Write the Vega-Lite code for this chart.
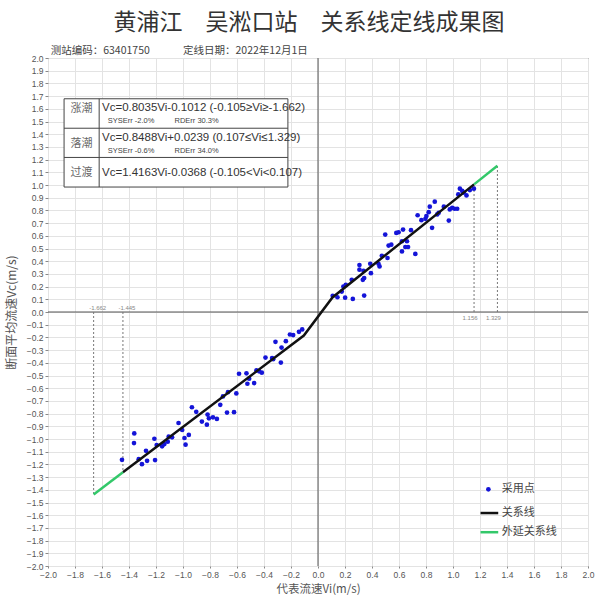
{
  "$schema": "https://vega.github.io/schema/vega-lite/v6.json",
  "width": 540,
  "height": 508,
  "autosize": {"type": "none"},
  "padding": {"left": 48, "top": 58, "right": 7, "bottom": 31},
  "background": "white",
  "title": {
    "text": "黄浦江　吴淞口站　关系线定线成果图",
    "font": "Noto Sans CJK SC",
    "fontSize": 23,
    "fontWeight": "normal",
    "color": "#333333",
    "anchor": "middle",
    "frame": "group",
    "dx": -9,
    "offset": 11
  },
  "config": {
    "view": {"stroke": "#444444", "strokeWidth": 1},
    "axis": {
      "labelFont": "Liberation Sans",
      "labelFontSize": 8.5,
      "labelColor": "#555555",
      "tickColor": "#888888",
      "tickSize": 3,
      "gridColor": "#e3e3e3",
      "gridWidth": 1,
      "domain": false,
      "titleFont": "Noto Sans CJK SC",
      "titleFontSize": 12,
      "titleFontWeight": "normal",
      "titleColor": "#555555",
      "labelFlush": false,
      "labelOverlap": false
    }
  },
  "encoding": {
    "x": {
      "field": "vi",
      "type": "quantitative",
      "scale": {"domain": [-2, 2], "nice": false, "zero": false},
      "axis": {
        "title": "代表流速Vi(m/s)",
        "values": [-2, -1.8, -1.6, -1.4, -1.2, -1, -0.8, -0.6, -0.4, -0.2, 0, 0.2, 0.4, 0.6, 0.8, 1, 1.2, 1.4, 1.6, 1.8, 2],
        "format": ".1f",
        "tickSize": 2,
        "labelPadding": 2,
        "titleFontSize": 11.5,
        "titlePadding": 5
      }
    },
    "y": {
      "field": "vc",
      "type": "quantitative",
      "scale": {"domain": [-2, 2], "nice": false, "zero": false},
      "axis": {
        "title": "断面平均流速Vc(m/s)",
        "values": [-2, -1.9, -1.8, -1.7, -1.6, -1.5, -1.4, -1.3, -1.2, -1.1, -1, -0.9, -0.8, -0.7, -0.6, -0.5, -0.4, -0.3, -0.2, -0.1, 0, 0.1, 0.2, 0.3, 0.4, 0.5, 0.6, 0.7, 0.8, 0.9, 1, 1.1, 1.2, 1.3, 1.4, 1.5, 1.6, 1.7, 1.8, 1.9, 2],
        "format": ".1f",
        "labelPadding": 2,
        "titlePadding": 8
      }
    }
  },
  "datasets": {
    "pts": [
      {"vi": -1.452, "vc": -1.164}, {"vi": -1.361, "vc": -0.956}, {"vi": -1.363, "vc": -1.032}, {"vi": -1.328, "vc": -1.159},
      {"vi": -1.304, "vc": -1.198}, {"vi": -1.274, "vc": -1.093}, {"vi": -1.266, "vc": -1.172}, {"vi": -1.212, "vc": -0.998},
      {"vi": -1.207, "vc": -1.166}, {"vi": -1.195, "vc": -1.048}, {"vi": -1.155, "vc": -1.058}, {"vi": -1.138, "vc": -1.04},
      {"vi": -1.113, "vc": -1.021}, {"vi": -1.106, "vc": -0.982}, {"vi": -1.081, "vc": -0.987}, {"vi": -1.033, "vc": -0.874},
      {"vi": -1.006, "vc": -0.929}, {"vi": -0.989, "vc": -0.992}, {"vi": -0.981, "vc": -1.045}, {"vi": -0.957, "vc": -0.968},
      {"vi": -0.934, "vc": -0.75}, {"vi": -0.902, "vc": -0.786}, {"vi": -0.86, "vc": -0.863}, {"vi": -0.823, "vc": -0.887},
      {"vi": -0.818, "vc": -0.808}, {"vi": -0.808, "vc": -0.837}, {"vi": -0.778, "vc": -0.829}, {"vi": -0.749, "vc": -0.842},
      {"vi": -0.724, "vc": -0.731}, {"vi": -0.704, "vc": -0.665}, {"vi": -0.674, "vc": -0.792}, {"vi": -0.667, "vc": -0.631},
      {"vi": -0.622, "vc": -0.789}, {"vi": -0.605, "vc": -0.641}, {"vi": -0.585, "vc": -0.486}, {"vi": -0.53, "vc": -0.483},
      {"vi": -0.523, "vc": -0.565}, {"vi": -0.51, "vc": -0.525}, {"vi": -0.473, "vc": -0.56}, {"vi": -0.456, "vc": -0.459},
      {"vi": -0.436, "vc": -0.467}, {"vi": -0.416, "vc": -0.478}, {"vi": -0.389, "vc": -0.359}, {"vi": -0.34, "vc": -0.362},
      {"vi": -0.332, "vc": -0.372}, {"vi": -0.275, "vc": -0.398}, {"vi": -0.315, "vc": -0.235}, {"vi": -0.27, "vc": -0.28},
      {"vi": -0.238, "vc": -0.23}, {"vi": -0.208, "vc": -0.177}, {"vi": -0.184, "vc": -0.182}, {"vi": -0.141, "vc": -0.156},
      {"vi": -0.117, "vc": -0.137},
      {"vi": 0.109, "vc": 0.127}, {"vi": 0.144, "vc": 0.116}, {"vi": 0.176, "vc": 0.161}, {"vi": 0.188, "vc": 0.2},
      {"vi": 0.206, "vc": 0.214}, {"vi": 0.201, "vc": 0.113}, {"vi": 0.258, "vc": 0.103}, {"vi": 0.25, "vc": 0.253},
      {"vi": 0.307, "vc": 0.37}, {"vi": 0.307, "vc": 0.333}, {"vi": 0.332, "vc": 0.253}, {"vi": 0.342, "vc": 0.267},
      {"vi": 0.337, "vc": 0.325}, {"vi": 0.342, "vc": 0.129}, {"vi": 0.387, "vc": 0.38}, {"vi": 0.392, "vc": 0.306},
      {"vi": 0.448, "vc": 0.38}, {"vi": 0.456, "vc": 0.359}, {"vi": 0.473, "vc": 0.443}, {"vi": 0.515, "vc": 0.425},
      {"vi": 0.498, "vc": 0.61}, {"vi": 0.523, "vc": 0.523}, {"vi": 0.543, "vc": 0.53}, {"vi": 0.58, "vc": 0.623},
      {"vi": 0.597, "vc": 0.628}, {"vi": 0.622, "vc": 0.477}, {"vi": 0.622, "vc": 0.557}, {"vi": 0.63, "vc": 0.649},
      {"vi": 0.647, "vc": 0.512}, {"vi": 0.659, "vc": 0.557}, {"vi": 0.667, "vc": 0.512}, {"vi": 0.689, "vc": 0.644},
      {"vi": 0.721, "vc": 0.457}, {"vi": 0.738, "vc": 0.762}, {"vi": 0.766, "vc": 0.723}, {"vi": 0.796, "vc": 0.734},
      {"vi": 0.803, "vc": 0.755}, {"vi": 0.828, "vc": 0.829}, {"vi": 0.82, "vc": 0.786}, {"vi": 0.845, "vc": 0.663},
      {"vi": 0.865, "vc": 0.869}, {"vi": 0.883, "vc": 0.768}, {"vi": 0.894, "vc": 0.781}, {"vi": 0.932, "vc": 0.829},
      {"vi": 0.969, "vc": 0.72}, {"vi": 0.976, "vc": 0.808}, {"vi": 0.994, "vc": 0.821}, {"vi": 1.011, "vc": 0.813},
      {"vi": 1.031, "vc": 0.813}, {"vi": 1.039, "vc": 0.926}, {"vi": 1.051, "vc": 0.971}, {"vi": 1.068, "vc": 0.953},
      {"vi": 1.08, "vc": 0.94}, {"vi": 1.1, "vc": 0.918}, {"vi": 1.125, "vc": 0.96}, {"vi": 1.155, "vc": 0.971}
    ],
    "rel": [
      {"vi": -1.445, "vc": -1.2622}, {"vi": -0.105, "vc": -0.1856}, {"vi": 0.107, "vc": 0.1147}, {"vi": 1.156, "vc": 1.0051}
    ],
    "ext": [
      {"seg": "low", "vi": -1.662, "vc": -1.4366}, {"seg": "low", "vi": -1.445, "vc": -1.2622},
      {"seg": "high", "vi": 1.156, "vc": 1.0051}, {"seg": "high", "vi": 1.329, "vc": 1.152}
    ],
    "bounds": [
      {"vi": -1.662, "vc": 0, "vc2": -1.4366, "label": "-1.662", "side": "low"},
      {"vi": -1.445, "vc": 0, "vc2": -1.2622, "label": "-1.445", "side": "low"},
      {"vi": 1.156, "vc": 0, "vc2": 1.0051, "label": "1.156", "side": "high"},
      {"vi": 1.329, "vc": 0, "vc2": 1.152, "label": "1.329", "side": "high"}
    ]
  },
  "layer": [
    {
      "data": {"values": [{"vi": 0, "vc": -2, "vi2": 0, "vc2": 2}, {"vi": -2, "vc": 0, "vi2": 2, "vc2": 0}]},
      "mark": {"type": "rule", "color": "#555555", "strokeWidth": 1},
      "encoding": {"x2": {"field": "vi2"}, "y2": {"field": "vc2"}}
    },
    {
      "data": {"name": "bounds"},
      "mark": {"type": "rule", "color": "#777777", "strokeWidth": 1, "strokeDash": [2, 2]},
      "encoding": {"y2": {"field": "vc2"}}
    },
    {
      "data": {"name": "bounds"},
      "transform": [{"filter": "datum.side == 'low'"}],
      "mark": {"type": "text", "font": "Liberation Sans", "fontSize": 6, "color": "#888888", "baseline": "bottom", "align": "center", "dx": 4, "dy": -1},
      "encoding": {"text": {"field": "label"}}
    },
    {
      "data": {"name": "bounds"},
      "transform": [{"filter": "datum.side == 'high'"}],
      "mark": {"type": "text", "font": "Liberation Sans", "fontSize": 6, "color": "#888888", "baseline": "top", "align": "center", "dx": -4, "dy": 3},
      "encoding": {"text": {"field": "label"}}
    },
    {
      "data": {"name": "pts"},
      "mark": {"type": "circle", "color": "#1414d8", "size": 22, "opacity": 1}
    },
    {
      "data": {"name": "rel"},
      "mark": {"type": "line", "color": "#111111", "strokeWidth": 2.5},
      "encoding": {"order": {"field": "vi", "type": "quantitative"}}
    },
    {
      "data": {"name": "ext"},
      "mark": {"type": "line", "color": "#33c86a", "strokeWidth": 2.5},
      "encoding": {"detail": {"field": "seg"}, "order": {"field": "vi", "type": "quantitative"}}
    },
    {
      "data": {"values": [{"vi": -1.881, "vc": 0.984, "vi2": -0.223, "vc2": 1.679}]},
      "mark": {"type": "rect", "fill": "white", "stroke": "#444444", "strokeWidth": 1},
      "encoding": {"x2": {"field": "vi2"}, "y2": {"field": "vc2"}}
    },
    {
      "data": {"values": [
        {"vi": -1.881, "vc": 1.447, "vi2": -0.223, "vc2": 1.447},
        {"vi": -1.881, "vc": 1.217, "vi2": -0.223, "vc2": 1.217},
        {"vi": -1.621, "vc": 0.984, "vi2": -1.621, "vc2": 1.679}
      ]},
      "mark": {"type": "rule", "color": "#444444", "strokeWidth": 1},
      "encoding": {"x2": {"field": "vi2"}, "y2": {"field": "vc2"}}
    },
    {
      "data": {"values": [
        {"vi": -1.751, "vc": 1.599, "label": "涨潮"},
        {"vi": -1.751, "vc": 1.322, "label": "落潮"},
        {"vi": -1.751, "vc": 1.098, "label": "过渡"}
      ]},
      "mark": {"type": "text", "font": "Noto Sans CJK SC", "fontSize": 11, "color": "#666666", "align": "center", "baseline": "middle"},
      "encoding": {"text": {"field": "label"}}
    },
    {
      "data": {"values": [
        {"vi": -1.6, "vc": 1.605, "label": "Vc=0.8035Vi-0.1012 (-0.105≥Vi≥-1.662)"},
        {"vi": -1.6, "vc": 1.367, "label": "Vc=0.8488Vi+0.0239 (0.107≤Vi≤1.329)"},
        {"vi": -1.6, "vc": 1.098, "label": "Vc=1.4163Vi-0.0368 (-0.105<Vi<0.107)"}
      ]},
      "mark": {"type": "text", "font": "Liberation Sans", "fontSize": 11.5, "color": "#333333", "align": "left", "baseline": "middle"},
      "encoding": {"text": {"field": "label"}}
    },
    {
      "data": {"values": [
        {"vi": -1.558, "vc": 1.502, "label": "SYSErr -2.0%"},
        {"vi": -1.063, "vc": 1.502, "label": "RDErr 30.3%"},
        {"vi": -1.558, "vc": 1.269, "label": "SYSErr -0.6%"},
        {"vi": -1.063, "vc": 1.269, "label": "RDErr 34.0%"}
      ]},
      "mark": {"type": "text", "font": "Liberation Sans", "fontSize": 7.5, "color": "#444444", "align": "left", "baseline": "middle"},
      "encoding": {"text": {"field": "label"}}
    },
    {
      "data": {"values": [
        {"vi": -1.98, "vc": 2.0, "label": "测站编码：63401750"},
        {"vi": -1.0, "vc": 2.0, "label": "定线日期：2022年12月1日"}
      ]},
      "mark": {"type": "text", "font": "Noto Sans CJK SC", "fontSize": 10.5, "color": "#444444", "align": "left", "baseline": "bottom", "dy": -2},
      "encoding": {"text": {"field": "label"}}
    },
    {
      "data": {"values": [{"vi": 1.262, "vc": -1.396}]},
      "mark": {"type": "circle", "color": "#1414d8", "size": 22, "opacity": 1}
    },
    {
      "data": {"values": [
        {"vi": 1.204, "vc": -1.583, "vi2": 1.335, "col": "black"},
        {"vi": 1.204, "vc": -1.734, "vi2": 1.335, "col": "green"}
      ]},
      "mark": {"type": "rule", "strokeWidth": 2.5},
      "encoding": {
        "x2": {"field": "vi2"},
        "color": {"field": "col", "type": "nominal", "scale": {"domain": ["black", "green"], "range": ["#111111", "#33c86a"]}, "legend": null}
      }
    },
    {
      "data": {"values": [
        {"vi": 1.362, "vc": -1.396, "label": "采用点"},
        {"vi": 1.362, "vc": -1.583, "label": "关系线"},
        {"vi": 1.362, "vc": -1.734, "label": "外延关系线"}
      ]},
      "mark": {"type": "text", "font": "Noto Sans CJK SC", "fontSize": 11, "color": "#444444", "align": "left", "baseline": "middle"},
      "encoding": {"text": {"field": "label"}}
    }
  ]
}
